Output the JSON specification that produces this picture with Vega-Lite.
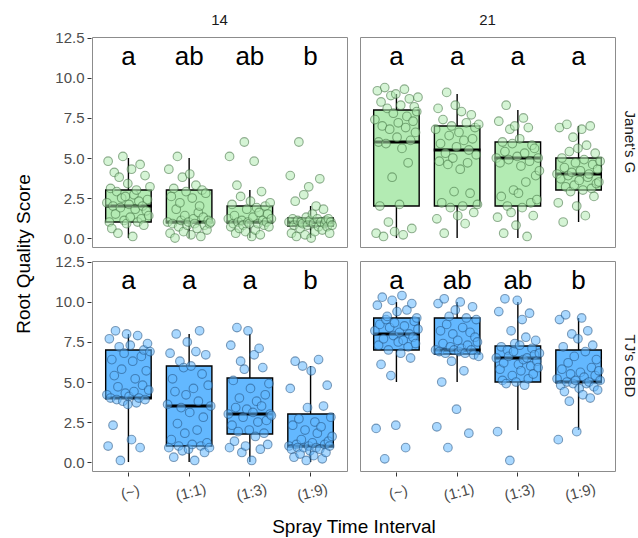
{
  "$schema": "https://vega.github.io/schema/vega-lite/v6.json",
  "padding": {"left": 14, "top": 13, "right": 5, "bottom": 5},
  "background": "white",
  "data": {"values": [
    {"day":14,"cv":"Janet's G","trt":"(~)","lower":0,"q1":1,"median":2,"q3":3,"upper":5,"letter":"a"},
    {"day":14,"cv":"Janet's G","trt":"(1:1)","lower":0,"q1":1,"median":1,"q3":3,"upper":5,"letter":"ab"},
    {"day":14,"cv":"Janet's G","trt":"(1:3)","lower":0,"q1":1,"median":1,"q3":2,"upper":3,"letter":"ab"},
    {"day":14,"cv":"Janet's G","trt":"(1:9)","lower":0,"q1":0.75,"median":1,"q3":1.25,"upper":2,"letter":"b"},
    {"day":21,"cv":"Janet's G","trt":"(~)","lower":0,"q1":2,"median":6,"q3":8,"upper":9,"letter":"a"},
    {"day":21,"cv":"Janet's G","trt":"(1:1)","lower":0,"q1":2,"median":5.5,"q3":7,"upper":9,"letter":"a"},
    {"day":21,"cv":"Janet's G","trt":"(1:3)","lower":0,"q1":2,"median":5,"q3":6,"upper":8,"letter":"a"},
    {"day":21,"cv":"Janet's G","trt":"(1:9)","lower":1,"q1":3,"median":4,"q3":5,"upper":7,"letter":"a"},
    {"day":14,"cv":"TJ's CBD","trt":"(~)","lower":0,"q1":4,"median":4,"q3":7,"upper":8,"letter":"a"},
    {"day":14,"cv":"TJ's CBD","trt":"(1:1)","lower":0,"q1":1,"median":3.5,"q3":6,"upper":8,"letter":"a"},
    {"day":14,"cv":"TJ's CBD","trt":"(1:3)","lower":0,"q1":1.75,"median":3,"q3":5.25,"upper":8,"letter":"a"},
    {"day":14,"cv":"TJ's CBD","trt":"(1:9)","lower":0,"q1":1,"median":1,"q3":3,"upper":6,"letter":"b"},
    {"day":21,"cv":"TJ's CBD","trt":"(~)","lower":5,"q1":7,"median":8,"q3":9,"upper":10,"letter":"a"},
    {"day":21,"cv":"TJ's CBD","trt":"(1:1)","lower":5,"q1":6.75,"median":7,"q3":9,"upper":10,"letter":"ab"},
    {"day":21,"cv":"TJ's CBD","trt":"(1:3)","lower":2,"q1":5,"median":6.5,"q3":7.25,"upper":10,"letter":"ab"},
    {"day":21,"cv":"TJ's CBD","trt":"(1:9)","lower":2,"q1":5,"median":5,"q3":7,"upper":9,"letter":"b"},

    {"day":14,"cv":"Janet's G","trt":"(~)","plant":1,"score":2.2},{"day":14,"cv":"Janet's G","trt":"(~)","plant":2,"score":4.8},{"day":14,"cv":"Janet's G","trt":"(~)","plant":3,"score":1.0},{"day":14,"cv":"Janet's G","trt":"(~)","plant":4,"score":3.1},{"day":14,"cv":"Janet's G","trt":"(~)","plant":5,"score":0.6},{"day":14,"cv":"Janet's G","trt":"(~)","plant":6,"score":2.0},{"day":14,"cv":"Janet's G","trt":"(~)","plant":7,"score":4.1},{"day":14,"cv":"Janet's G","trt":"(~)","plant":8,"score":1.5},{"day":14,"cv":"Janet's G","trt":"(~)","plant":9,"score":2.9},{"day":14,"cv":"Janet's G","trt":"(~)","plant":10,"score":0.3},{"day":14,"cv":"Janet's G","trt":"(~)","plant":11,"score":3.8},{"day":14,"cv":"Janet's G","trt":"(~)","plant":12,"score":1.9},{"day":14,"cv":"Janet's G","trt":"(~)","plant":13,"score":2.5},{"day":14,"cv":"Janet's G","trt":"(~)","plant":14,"score":5.1},{"day":14,"cv":"Janet's G","trt":"(~)","plant":15,"score":1.1},{"day":14,"cv":"Janet's G","trt":"(~)","plant":16,"score":2.6},{"day":14,"cv":"Janet's G","trt":"(~)","plant":17,"score":0.9},{"day":14,"cv":"Janet's G","trt":"(~)","plant":18,"score":3.4},{"day":14,"cv":"Janet's G","trt":"(~)","plant":19,"score":2.1},{"day":14,"cv":"Janet's G","trt":"(~)","plant":20,"score":1.3},{"day":14,"cv":"Janet's G","trt":"(~)","plant":21,"score":4.3},{"day":14,"cv":"Janet's G","trt":"(~)","plant":22,"score":0.1},{"day":14,"cv":"Janet's G","trt":"(~)","plant":23,"score":2.7},{"day":14,"cv":"Janet's G","trt":"(~)","plant":24,"score":1.8},{"day":14,"cv":"Janet's G","trt":"(~)","plant":25,"score":3.0},{"day":14,"cv":"Janet's G","trt":"(~)","plant":26,"score":1.0},{"day":14,"cv":"Janet's G","trt":"(~)","plant":27,"score":2.3},{"day":14,"cv":"Janet's G","trt":"(~)","plant":28,"score":4.6},{"day":14,"cv":"Janet's G","trt":"(~)","plant":29,"score":1.2},{"day":14,"cv":"Janet's G","trt":"(~)","plant":30,"score":2.0},{"day":14,"cv":"Janet's G","trt":"(~)","plant":31,"score":0.8},{"day":14,"cv":"Janet's G","trt":"(~)","plant":32,"score":3.9},{"day":14,"cv":"Janet's G","trt":"(~)","plant":33,"score":1.7},{"day":14,"cv":"Janet's G","trt":"(~)","plant":34,"score":2.4},{"day":14,"cv":"Janet's G","trt":"(~)","plant":35,"score":1.4},{"day":14,"cv":"Janet's G","trt":"(~)","plant":36,"score":3.2},

    {"day":14,"cv":"Janet's G","trt":"(1:1)","plant":1,"score":1.0},{"day":14,"cv":"Janet's G","trt":"(1:1)","plant":2,"score":4.3},{"day":14,"cv":"Janet's G","trt":"(1:1)","plant":3,"score":0.3},{"day":14,"cv":"Janet's G","trt":"(1:1)","plant":4,"score":2.6},{"day":14,"cv":"Janet's G","trt":"(1:1)","plant":5,"score":0.9},{"day":14,"cv":"Janet's G","trt":"(1:1)","plant":6,"score":3.1},{"day":14,"cv":"Janet's G","trt":"(1:1)","plant":7,"score":0.0},{"day":14,"cv":"Janet's G","trt":"(1:1)","plant":8,"score":1.8},{"day":14,"cv":"Janet's G","trt":"(1:1)","plant":9,"score":5.1},{"day":14,"cv":"Janet's G","trt":"(1:1)","plant":10,"score":0.7},{"day":14,"cv":"Janet's G","trt":"(1:1)","plant":11,"score":2.2},{"day":14,"cv":"Janet's G","trt":"(1:1)","plant":12,"score":1.1},{"day":14,"cv":"Janet's G","trt":"(1:1)","plant":13,"score":3.8},{"day":14,"cv":"Janet's G","trt":"(1:1)","plant":14,"score":0.4},{"day":14,"cv":"Janet's G","trt":"(1:1)","plant":15,"score":1.4},{"day":14,"cv":"Janet's G","trt":"(1:1)","plant":16,"score":2.9},{"day":14,"cv":"Janet's G","trt":"(1:1)","plant":17,"score":0.8},{"day":14,"cv":"Janet's G","trt":"(1:1)","plant":18,"score":1.0},{"day":14,"cv":"Janet's G","trt":"(1:1)","plant":19,"score":4.0},{"day":14,"cv":"Janet's G","trt":"(1:1)","plant":20,"score":0.2},{"day":14,"cv":"Janet's G","trt":"(1:1)","plant":21,"score":2.5},{"day":14,"cv":"Janet's G","trt":"(1:1)","plant":22,"score":1.2},{"day":14,"cv":"Janet's G","trt":"(1:1)","plant":23,"score":0.9},{"day":14,"cv":"Janet's G","trt":"(1:1)","plant":24,"score":3.3},{"day":14,"cv":"Janet's G","trt":"(1:1)","plant":25,"score":0.6},{"day":14,"cv":"Janet's G","trt":"(1:1)","plant":26,"score":1.6},{"day":14,"cv":"Janet's G","trt":"(1:1)","plant":27,"score":2.0},{"day":14,"cv":"Janet's G","trt":"(1:1)","plant":28,"score":0.1},{"day":14,"cv":"Janet's G","trt":"(1:1)","plant":29,"score":3.0},{"day":14,"cv":"Janet's G","trt":"(1:1)","plant":30,"score":1.3},{"day":14,"cv":"Janet's G","trt":"(1:1)","plant":31,"score":0.8},{"day":14,"cv":"Janet's G","trt":"(1:1)","plant":32,"score":2.8},{"day":14,"cv":"Janet's G","trt":"(1:1)","plant":33,"score":0.5},{"day":14,"cv":"Janet's G","trt":"(1:1)","plant":34,"score":1.1},{"day":14,"cv":"Janet's G","trt":"(1:1)","plant":35,"score":0.9},{"day":14,"cv":"Janet's G","trt":"(1:1)","plant":36,"score":1.0},

    {"day":14,"cv":"Janet's G","trt":"(1:3)","plant":1,"score":1.2},{"day":14,"cv":"Janet's G","trt":"(1:3)","plant":2,"score":5.1},{"day":14,"cv":"Janet's G","trt":"(1:3)","plant":3,"score":0.7},{"day":14,"cv":"Janet's G","trt":"(1:3)","plant":4,"score":2.1},{"day":14,"cv":"Janet's G","trt":"(1:3)","plant":5,"score":0.9},{"day":14,"cv":"Janet's G","trt":"(1:3)","plant":6,"score":1.4},{"day":14,"cv":"Janet's G","trt":"(1:3)","plant":7,"score":0.3},{"day":14,"cv":"Janet's G","trt":"(1:3)","plant":8,"score":3.3},{"day":14,"cv":"Janet's G","trt":"(1:3)","plant":9,"score":1.0},{"day":14,"cv":"Janet's G","trt":"(1:3)","plant":10,"score":0.6},{"day":14,"cv":"Janet's G","trt":"(1:3)","plant":11,"score":2.6},{"day":14,"cv":"Janet's G","trt":"(1:3)","plant":12,"score":1.1},{"day":14,"cv":"Janet's G","trt":"(1:3)","plant":13,"score":0.8},{"day":14,"cv":"Janet's G","trt":"(1:3)","plant":14,"score":6.0},{"day":14,"cv":"Janet's G","trt":"(1:3)","plant":15,"score":0.4},{"day":14,"cv":"Janet's G","trt":"(1:3)","plant":16,"score":1.8},{"day":14,"cv":"Janet's G","trt":"(1:3)","plant":17,"score":1.0},{"day":14,"cv":"Janet's G","trt":"(1:3)","plant":18,"score":0.9},{"day":14,"cv":"Janet's G","trt":"(1:3)","plant":19,"score":2.3},{"day":14,"cv":"Janet's G","trt":"(1:3)","plant":20,"score":0.1},{"day":14,"cv":"Janet's G","trt":"(1:3)","plant":21,"score":1.3},{"day":14,"cv":"Janet's G","trt":"(1:3)","plant":22,"score":4.8},{"day":14,"cv":"Janet's G","trt":"(1:3)","plant":23,"score":0.5},{"day":14,"cv":"Janet's G","trt":"(1:3)","plant":24,"score":1.9},{"day":14,"cv":"Janet's G","trt":"(1:3)","plant":25,"score":0.9},{"day":14,"cv":"Janet's G","trt":"(1:3)","plant":26,"score":1.6},{"day":14,"cv":"Janet's G","trt":"(1:3)","plant":27,"score":0.2},{"day":14,"cv":"Janet's G","trt":"(1:3)","plant":28,"score":2.9},{"day":14,"cv":"Janet's G","trt":"(1:3)","plant":29,"score":1.1},{"day":14,"cv":"Janet's G","trt":"(1:3)","plant":30,"score":0.8},{"day":14,"cv":"Janet's G","trt":"(1:3)","plant":31,"score":2.0},{"day":14,"cv":"Janet's G","trt":"(1:3)","plant":32,"score":1.0},{"day":14,"cv":"Janet's G","trt":"(1:3)","plant":33,"score":1.5},{"day":14,"cv":"Janet's G","trt":"(1:3)","plant":34,"score":0.7},{"day":14,"cv":"Janet's G","trt":"(1:3)","plant":35,"score":2.2},{"day":14,"cv":"Janet's G","trt":"(1:3)","plant":36,"score":1.2},

    {"day":14,"cv":"Janet's G","trt":"(1:9)","plant":1,"score":1.0},{"day":14,"cv":"Janet's G","trt":"(1:9)","plant":2,"score":3.9},{"day":14,"cv":"Janet's G","trt":"(1:9)","plant":3,"score":0.3},{"day":14,"cv":"Janet's G","trt":"(1:9)","plant":4,"score":1.2},{"day":14,"cv":"Janet's G","trt":"(1:9)","plant":5,"score":0.8},{"day":14,"cv":"Janet's G","trt":"(1:9)","plant":6,"score":2.3},{"day":14,"cv":"Janet's G","trt":"(1:9)","plant":7,"score":0.1},{"day":14,"cv":"Janet's G","trt":"(1:9)","plant":8,"score":1.1},{"day":14,"cv":"Janet's G","trt":"(1:9)","plant":9,"score":6.0},{"day":14,"cv":"Janet's G","trt":"(1:9)","plant":10,"score":0.6},{"day":14,"cv":"Janet's G","trt":"(1:9)","plant":11,"score":1.0},{"day":14,"cv":"Janet's G","trt":"(1:9)","plant":12,"score":0.9},{"day":14,"cv":"Janet's G","trt":"(1:9)","plant":13,"score":2.7},{"day":14,"cv":"Janet's G","trt":"(1:9)","plant":14,"score":0.2},{"day":14,"cv":"Janet's G","trt":"(1:9)","plant":15,"score":1.3},{"day":14,"cv":"Janet's G","trt":"(1:9)","plant":16,"score":0.8},{"day":14,"cv":"Janet's G","trt":"(1:9)","plant":17,"score":3.2},{"day":14,"cv":"Janet's G","trt":"(1:9)","plant":18,"score":1.1},{"day":14,"cv":"Janet's G","trt":"(1:9)","plant":19,"score":0.0},{"day":14,"cv":"Janet's G","trt":"(1:9)","plant":20,"score":1.5},{"day":14,"cv":"Janet's G","trt":"(1:9)","plant":21,"score":0.9},{"day":14,"cv":"Janet's G","trt":"(1:9)","plant":22,"score":0.4},{"day":14,"cv":"Janet's G","trt":"(1:9)","plant":23,"score":2.0},{"day":14,"cv":"Janet's G","trt":"(1:9)","plant":24,"score":1.2},{"day":14,"cv":"Janet's G","trt":"(1:9)","plant":25,"score":0.7},{"day":14,"cv":"Janet's G","trt":"(1:9)","plant":26,"score":3.7},{"day":14,"cv":"Janet's G","trt":"(1:9)","plant":27,"score":1.0},{"day":14,"cv":"Janet's G","trt":"(1:9)","plant":28,"score":0.5},{"day":14,"cv":"Janet's G","trt":"(1:9)","plant":29,"score":1.8},{"day":14,"cv":"Janet's G","trt":"(1:9)","plant":30,"score":0.9},{"day":14,"cv":"Janet's G","trt":"(1:9)","plant":31,"score":1.1},{"day":14,"cv":"Janet's G","trt":"(1:9)","plant":32,"score":0.7},{"day":14,"cv":"Janet's G","trt":"(1:9)","plant":33,"score":1.2},{"day":14,"cv":"Janet's G","trt":"(1:9)","plant":34,"score":0.3},{"day":14,"cv":"Janet's G","trt":"(1:9)","plant":35,"score":1.0},{"day":14,"cv":"Janet's G","trt":"(1:9)","plant":36,"score":0.8},

    {"day":21,"cv":"Janet's G","trt":"(~)","plant":1,"score":7.4},{"day":21,"cv":"Janet's G","trt":"(~)","plant":2,"score":0.3},{"day":21,"cv":"Janet's G","trt":"(~)","plant":3,"score":9.2},{"day":21,"cv":"Janet's G","trt":"(~)","plant":4,"score":6.0},{"day":21,"cv":"Janet's G","trt":"(~)","plant":5,"score":2.0},{"day":21,"cv":"Janet's G","trt":"(~)","plant":6,"score":8.5},{"day":21,"cv":"Janet's G","trt":"(~)","plant":7,"score":7.0},{"day":21,"cv":"Janet's G","trt":"(~)","plant":8,"score":0.1},{"day":21,"cv":"Janet's G","trt":"(~)","plant":9,"score":9.4},{"day":21,"cv":"Janet's G","trt":"(~)","plant":10,"score":5.9},{"day":21,"cv":"Janet's G","trt":"(~)","plant":11,"score":8.1},{"day":21,"cv":"Janet's G","trt":"(~)","plant":12,"score":1.0},{"day":21,"cv":"Janet's G","trt":"(~)","plant":13,"score":6.8},{"day":21,"cv":"Janet's G","trt":"(~)","plant":14,"score":8.9},{"day":21,"cv":"Janet's G","trt":"(~)","plant":15,"score":3.8},{"day":21,"cv":"Janet's G","trt":"(~)","plant":16,"score":7.8},{"day":21,"cv":"Janet's G","trt":"(~)","plant":17,"score":0.4},{"day":21,"cv":"Janet's G","trt":"(~)","plant":18,"score":9.0},{"day":21,"cv":"Janet's G","trt":"(~)","plant":19,"score":6.3},{"day":21,"cv":"Janet's G","trt":"(~)","plant":20,"score":7.2},{"day":21,"cv":"Janet's G","trt":"(~)","plant":21,"score":2.1},{"day":21,"cv":"Janet's G","trt":"(~)","plant":22,"score":8.3},{"day":21,"cv":"Janet's G","trt":"(~)","plant":23,"score":5.6},{"day":21,"cv":"Janet's G","trt":"(~)","plant":24,"score":0.2},{"day":21,"cv":"Janet's G","trt":"(~)","plant":25,"score":9.3},{"day":21,"cv":"Janet's G","trt":"(~)","plant":26,"score":6.9},{"day":21,"cv":"Janet's G","trt":"(~)","plant":27,"score":7.6},{"day":21,"cv":"Janet's G","trt":"(~)","plant":28,"score":4.7},{"day":21,"cv":"Janet's G","trt":"(~)","plant":29,"score":8.7},{"day":21,"cv":"Janet's G","trt":"(~)","plant":30,"score":6.1},{"day":21,"cv":"Janet's G","trt":"(~)","plant":31,"score":0.6},{"day":21,"cv":"Janet's G","trt":"(~)","plant":32,"score":7.3},{"day":21,"cv":"Janet's G","trt":"(~)","plant":33,"score":8.2},{"day":21,"cv":"Janet's G","trt":"(~)","plant":34,"score":6.6},{"day":21,"cv":"Janet's G","trt":"(~)","plant":35,"score":7.9},{"day":21,"cv":"Janet's G","trt":"(~)","plant":36,"score":8.8},

    {"day":21,"cv":"Janet's G","trt":"(1:1)","plant":1,"score":6.8},{"day":21,"cv":"Janet's G","trt":"(1:1)","plant":2,"score":1.2},{"day":21,"cv":"Janet's G","trt":"(1:1)","plant":3,"score":8.1},{"day":21,"cv":"Janet's G","trt":"(1:1)","plant":4,"score":4.8},{"day":21,"cv":"Janet's G","trt":"(1:1)","plant":5,"score":5.9},{"day":21,"cv":"Janet's G","trt":"(1:1)","plant":6,"score":2.2},{"day":21,"cv":"Janet's G","trt":"(1:1)","plant":7,"score":7.4},{"day":21,"cv":"Janet's G","trt":"(1:1)","plant":8,"score":0.3},{"day":21,"cv":"Janet's G","trt":"(1:1)","plant":9,"score":5.3},{"day":21,"cv":"Janet's G","trt":"(1:1)","plant":10,"score":9.1},{"day":21,"cv":"Janet's G","trt":"(1:1)","plant":11,"score":4.6},{"day":21,"cv":"Janet's G","trt":"(1:1)","plant":12,"score":6.4},{"day":21,"cv":"Janet's G","trt":"(1:1)","plant":13,"score":1.9},{"day":21,"cv":"Janet's G","trt":"(1:1)","plant":14,"score":7.0},{"day":21,"cv":"Janet's G","trt":"(1:1)","plant":15,"score":5.0},{"day":21,"cv":"Janet's G","trt":"(1:1)","plant":16,"score":2.9},{"day":21,"cv":"Janet's G","trt":"(1:1)","plant":17,"score":8.3},{"day":21,"cv":"Janet's G","trt":"(1:1)","plant":18,"score":5.7},{"day":21,"cv":"Janet's G","trt":"(1:1)","plant":19,"score":1.4},{"day":21,"cv":"Janet's G","trt":"(1:1)","plant":20,"score":6.6},{"day":21,"cv":"Janet's G","trt":"(1:1)","plant":21,"score":4.3},{"day":21,"cv":"Janet's G","trt":"(1:1)","plant":22,"score":7.9},{"day":21,"cv":"Janet's G","trt":"(1:1)","plant":23,"score":2.0},{"day":21,"cv":"Janet's G","trt":"(1:1)","plant":24,"score":6.1},{"day":21,"cv":"Janet's G","trt":"(1:1)","plant":25,"score":0.9},{"day":21,"cv":"Janet's G","trt":"(1:1)","plant":26,"score":7.2},{"day":21,"cv":"Janet's G","trt":"(1:1)","plant":27,"score":4.7},{"day":21,"cv":"Janet's G","trt":"(1:1)","plant":28,"score":5.5},{"day":21,"cv":"Janet's G","trt":"(1:1)","plant":29,"score":2.8},{"day":21,"cv":"Janet's G","trt":"(1:1)","plant":30,"score":7.7},{"day":21,"cv":"Janet's G","trt":"(1:1)","plant":31,"score":6.2},{"day":21,"cv":"Janet's G","trt":"(1:1)","plant":32,"score":1.6},{"day":21,"cv":"Janet's G","trt":"(1:1)","plant":33,"score":6.9},{"day":21,"cv":"Janet's G","trt":"(1:1)","plant":34,"score":5.2},{"day":21,"cv":"Janet's G","trt":"(1:1)","plant":35,"score":2.1},{"day":21,"cv":"Janet's G","trt":"(1:1)","plant":36,"score":7.1},

    {"day":21,"cv":"Janet's G","trt":"(1:3)","plant":1,"score":5.0},{"day":21,"cv":"Janet's G","trt":"(1:3)","plant":2,"score":1.3},{"day":21,"cv":"Janet's G","trt":"(1:3)","plant":3,"score":7.3},{"day":21,"cv":"Janet's G","trt":"(1:3)","plant":4,"score":4.7},{"day":21,"cv":"Janet's G","trt":"(1:3)","plant":5,"score":2.6},{"day":21,"cv":"Janet's G","trt":"(1:3)","plant":6,"score":6.0},{"day":21,"cv":"Janet's G","trt":"(1:3)","plant":7,"score":0.3},{"day":21,"cv":"Janet's G","trt":"(1:3)","plant":8,"score":5.4},{"day":21,"cv":"Janet's G","trt":"(1:3)","plant":9,"score":8.3},{"day":21,"cv":"Janet's G","trt":"(1:3)","plant":10,"score":2.0},{"day":21,"cv":"Janet's G","trt":"(1:3)","plant":11,"score":4.9},{"day":21,"cv":"Janet's G","trt":"(1:3)","plant":12,"score":6.8},{"day":21,"cv":"Janet's G","trt":"(1:3)","plant":13,"score":1.6},{"day":21,"cv":"Janet's G","trt":"(1:3)","plant":14,"score":5.9},{"day":21,"cv":"Janet's G","trt":"(1:3)","plant":15,"score":3.0},{"day":21,"cv":"Janet's G","trt":"(1:3)","plant":16,"score":7.0},{"day":21,"cv":"Janet's G","trt":"(1:3)","plant":17,"score":0.8},{"day":21,"cv":"Janet's G","trt":"(1:3)","plant":18,"score":5.1},{"day":21,"cv":"Janet's G","trt":"(1:3)","plant":19,"score":2.8},{"day":21,"cv":"Janet's G","trt":"(1:3)","plant":20,"score":6.2},{"day":21,"cv":"Janet's G","trt":"(1:3)","plant":21,"score":4.5},{"day":21,"cv":"Janet's G","trt":"(1:3)","plant":22,"score":1.9},{"day":21,"cv":"Janet's G","trt":"(1:3)","plant":23,"score":7.5},{"day":21,"cv":"Janet's G","trt":"(1:3)","plant":24,"score":5.3},{"day":21,"cv":"Janet's G","trt":"(1:3)","plant":25,"score":3.5},{"day":21,"cv":"Janet's G","trt":"(1:3)","plant":26,"score":0.1},{"day":21,"cv":"Janet's G","trt":"(1:3)","plant":27,"score":6.9},{"day":21,"cv":"Janet's G","trt":"(1:3)","plant":28,"score":4.8},{"day":21,"cv":"Janet's G","trt":"(1:3)","plant":29,"score":2.2},{"day":21,"cv":"Janet's G","trt":"(1:3)","plant":30,"score":5.8},{"day":21,"cv":"Janet's G","trt":"(1:3)","plant":31,"score":1.4},{"day":21,"cv":"Janet's G","trt":"(1:3)","plant":32,"score":5.6},{"day":21,"cv":"Janet's G","trt":"(1:3)","plant":33,"score":3.9},{"day":21,"cv":"Janet's G","trt":"(1:3)","plant":34,"score":2.4},{"day":21,"cv":"Janet's G","trt":"(1:3)","plant":35,"score":5.0},{"day":21,"cv":"Janet's G","trt":"(1:3)","plant":36,"score":4.2},

    {"day":21,"cv":"Janet's G","trt":"(1:9)","plant":1,"score":4.0},{"day":21,"cv":"Janet's G","trt":"(1:9)","plant":2,"score":2.2},{"day":21,"cv":"Janet's G","trt":"(1:9)","plant":3,"score":6.9},{"day":21,"cv":"Janet's G","trt":"(1:9)","plant":4,"score":3.7},{"day":21,"cv":"Janet's G","trt":"(1:9)","plant":5,"score":5.0},{"day":21,"cv":"Janet's G","trt":"(1:9)","plant":6,"score":1.0},{"day":21,"cv":"Janet's G","trt":"(1:9)","plant":7,"score":4.4},{"day":21,"cv":"Janet's G","trt":"(1:9)","plant":8,"score":3.2},{"day":21,"cv":"Janet's G","trt":"(1:9)","plant":9,"score":7.1},{"day":21,"cv":"Janet's G","trt":"(1:9)","plant":10,"score":3.9},{"day":21,"cv":"Janet's G","trt":"(1:9)","plant":11,"score":5.4},{"day":21,"cv":"Janet's G","trt":"(1:9)","plant":12,"score":2.9},{"day":21,"cv":"Janet's G","trt":"(1:9)","plant":13,"score":4.1},{"day":21,"cv":"Janet's G","trt":"(1:9)","plant":14,"score":6.3},{"day":21,"cv":"Janet's G","trt":"(1:9)","plant":15,"score":3.3},{"day":21,"cv":"Janet's G","trt":"(1:9)","plant":16,"score":4.7},{"day":21,"cv":"Janet's G","trt":"(1:9)","plant":17,"score":2.0},{"day":21,"cv":"Janet's G","trt":"(1:9)","plant":18,"score":5.6},{"day":21,"cv":"Janet's G","trt":"(1:9)","plant":19,"score":3.6},{"day":21,"cv":"Janet's G","trt":"(1:9)","plant":20,"score":4.2},{"day":21,"cv":"Janet's G","trt":"(1:9)","plant":21,"score":6.8},{"day":21,"cv":"Janet's G","trt":"(1:9)","plant":22,"score":3.0},{"day":21,"cv":"Janet's G","trt":"(1:9)","plant":23,"score":4.9},{"day":21,"cv":"Janet's G","trt":"(1:9)","plant":24,"score":1.4},{"day":21,"cv":"Janet's G","trt":"(1:9)","plant":25,"score":5.8},{"day":21,"cv":"Janet's G","trt":"(1:9)","plant":26,"score":3.8},{"day":21,"cv":"Janet's G","trt":"(1:9)","plant":27,"score":4.0},{"day":21,"cv":"Janet's G","trt":"(1:9)","plant":28,"score":7.0},{"day":21,"cv":"Janet's G","trt":"(1:9)","plant":29,"score":3.1},{"day":21,"cv":"Janet's G","trt":"(1:9)","plant":30,"score":4.6},{"day":21,"cv":"Janet's G","trt":"(1:9)","plant":31,"score":2.6},{"day":21,"cv":"Janet's G","trt":"(1:9)","plant":32,"score":5.3},{"day":21,"cv":"Janet's G","trt":"(1:9)","plant":33,"score":3.4},{"day":21,"cv":"Janet's G","trt":"(1:9)","plant":34,"score":4.3},{"day":21,"cv":"Janet's G","trt":"(1:9)","plant":35,"score":3.5},{"day":21,"cv":"Janet's G","trt":"(1:9)","plant":36,"score":4.8},

    {"day":14,"cv":"TJ's CBD","trt":"(~)","plant":1,"score":4.2},{"day":14,"cv":"TJ's CBD","trt":"(~)","plant":2,"score":1.0},{"day":14,"cv":"TJ's CBD","trt":"(~)","plant":3,"score":7.7},{"day":14,"cv":"TJ's CBD","trt":"(~)","plant":4,"score":4.0},{"day":14,"cv":"TJ's CBD","trt":"(~)","plant":5,"score":6.4},{"day":14,"cv":"TJ's CBD","trt":"(~)","plant":6,"score":2.3},{"day":14,"cv":"TJ's CBD","trt":"(~)","plant":7,"score":5.4},{"day":14,"cv":"TJ's CBD","trt":"(~)","plant":8,"score":8.2},{"day":14,"cv":"TJ's CBD","trt":"(~)","plant":9,"score":3.9},{"day":14,"cv":"TJ's CBD","trt":"(~)","plant":10,"score":4.7},{"day":14,"cv":"TJ's CBD","trt":"(~)","plant":11,"score":7.2},{"day":14,"cv":"TJ's CBD","trt":"(~)","plant":12,"score":0.1},{"day":14,"cv":"TJ's CBD","trt":"(~)","plant":13,"score":5.8},{"day":14,"cv":"TJ's CBD","trt":"(~)","plant":14,"score":3.8},{"day":14,"cv":"TJ's CBD","trt":"(~)","plant":15,"score":6.8},{"day":14,"cv":"TJ's CBD","trt":"(~)","plant":16,"score":4.3},{"day":14,"cv":"TJ's CBD","trt":"(~)","plant":17,"score":8.0},{"day":14,"cv":"TJ's CBD","trt":"(~)","plant":18,"score":3.6},{"day":14,"cv":"TJ's CBD","trt":"(~)","plant":19,"score":4.1},{"day":14,"cv":"TJ's CBD","trt":"(~)","plant":20,"score":7.3},{"day":14,"cv":"TJ's CBD","trt":"(~)","plant":21,"score":1.4},{"day":14,"cv":"TJ's CBD","trt":"(~)","plant":22,"score":6.3},{"day":14,"cv":"TJ's CBD","trt":"(~)","plant":23,"score":4.4},{"day":14,"cv":"TJ's CBD","trt":"(~)","plant":24,"score":5.2},{"day":14,"cv":"TJ's CBD","trt":"(~)","plant":25,"score":3.7},{"day":14,"cv":"TJ's CBD","trt":"(~)","plant":26,"score":7.9},{"day":14,"cv":"TJ's CBD","trt":"(~)","plant":27,"score":4.0},{"day":14,"cv":"TJ's CBD","trt":"(~)","plant":28,"score":0.9},{"day":14,"cv":"TJ's CBD","trt":"(~)","plant":29,"score":6.6},{"day":14,"cv":"TJ's CBD","trt":"(~)","plant":30,"score":4.8},{"day":14,"cv":"TJ's CBD","trt":"(~)","plant":31,"score":7.0},{"day":14,"cv":"TJ's CBD","trt":"(~)","plant":32,"score":3.9},{"day":14,"cv":"TJ's CBD","trt":"(~)","plant":33,"score":5.7},{"day":14,"cv":"TJ's CBD","trt":"(~)","plant":34,"score":7.4},{"day":14,"cv":"TJ's CBD","trt":"(~)","plant":35,"score":4.5},{"day":14,"cv":"TJ's CBD","trt":"(~)","plant":36,"score":6.9},

    {"day":14,"cv":"TJ's CBD","trt":"(1:1)","plant":1,"score":3.6},{"day":14,"cv":"TJ's CBD","trt":"(1:1)","plant":2,"score":0.9},{"day":14,"cv":"TJ's CBD","trt":"(1:1)","plant":3,"score":6.8},{"day":14,"cv":"TJ's CBD","trt":"(1:1)","plant":4,"score":1.4},{"day":14,"cv":"TJ's CBD","trt":"(1:1)","plant":5,"score":5.2},{"day":14,"cv":"TJ's CBD","trt":"(1:1)","plant":6,"score":0.3},{"day":14,"cv":"TJ's CBD","trt":"(1:1)","plant":7,"score":4.4},{"day":14,"cv":"TJ's CBD","trt":"(1:1)","plant":8,"score":8.0},{"day":14,"cv":"TJ's CBD","trt":"(1:1)","plant":9,"score":2.4},{"day":14,"cv":"TJ's CBD","trt":"(1:1)","plant":10,"score":1.0},{"day":14,"cv":"TJ's CBD","trt":"(1:1)","plant":11,"score":6.3},{"day":14,"cv":"TJ's CBD","trt":"(1:1)","plant":12,"score":3.4},{"day":14,"cv":"TJ's CBD","trt":"(1:1)","plant":13,"score":0.7},{"day":14,"cv":"TJ's CBD","trt":"(1:1)","plant":14,"score":5.9},{"day":14,"cv":"TJ's CBD","trt":"(1:1)","plant":15,"score":1.8},{"day":14,"cv":"TJ's CBD","trt":"(1:1)","plant":16,"score":4.2},{"day":14,"cv":"TJ's CBD","trt":"(1:1)","plant":17,"score":7.5},{"day":14,"cv":"TJ's CBD","trt":"(1:1)","plant":18,"score":0.8},{"day":14,"cv":"TJ's CBD","trt":"(1:1)","plant":19,"score":3.1},{"day":14,"cv":"TJ's CBD","trt":"(1:1)","plant":20,"score":6.0},{"day":14,"cv":"TJ's CBD","trt":"(1:1)","plant":21,"score":1.1},{"day":14,"cv":"TJ's CBD","trt":"(1:1)","plant":22,"score":4.6},{"day":14,"cv":"TJ's CBD","trt":"(1:1)","plant":23,"score":0.1},{"day":14,"cv":"TJ's CBD","trt":"(1:1)","plant":24,"score":6.9},{"day":14,"cv":"TJ's CBD","trt":"(1:1)","plant":25,"score":2.0},{"day":14,"cv":"TJ's CBD","trt":"(1:1)","plant":26,"score":3.8},{"day":14,"cv":"TJ's CBD","trt":"(1:1)","plant":27,"score":8.2},{"day":14,"cv":"TJ's CBD","trt":"(1:1)","plant":28,"score":1.0},{"day":14,"cv":"TJ's CBD","trt":"(1:1)","plant":29,"score":5.5},{"day":14,"cv":"TJ's CBD","trt":"(1:1)","plant":30,"score":2.8},{"day":14,"cv":"TJ's CBD","trt":"(1:1)","plant":31,"score":0.6},{"day":14,"cv":"TJ's CBD","trt":"(1:1)","plant":32,"score":6.7},{"day":14,"cv":"TJ's CBD","trt":"(1:1)","plant":33,"score":1.2},{"day":14,"cv":"TJ's CBD","trt":"(1:1)","plant":34,"score":4.8},{"day":14,"cv":"TJ's CBD","trt":"(1:1)","plant":35,"score":0.9},{"day":14,"cv":"TJ's CBD","trt":"(1:1)","plant":36,"score":3.5},

    {"day":14,"cv":"TJ's CBD","trt":"(1:3)","plant":1,"score":3.0},{"day":14,"cv":"TJ's CBD","trt":"(1:3)","plant":2,"score":0.9},{"day":14,"cv":"TJ's CBD","trt":"(1:3)","plant":3,"score":7.3},{"day":14,"cv":"TJ's CBD","trt":"(1:3)","plant":4,"score":2.3},{"day":14,"cv":"TJ's CBD","trt":"(1:3)","plant":5,"score":5.1},{"day":14,"cv":"TJ's CBD","trt":"(1:3)","plant":6,"score":1.3},{"day":14,"cv":"TJ's CBD","trt":"(1:3)","plant":7,"score":3.4},{"day":14,"cv":"TJ's CBD","trt":"(1:3)","plant":8,"score":8.4},{"day":14,"cv":"TJ's CBD","trt":"(1:3)","plant":9,"score":1.9},{"day":14,"cv":"TJ's CBD","trt":"(1:3)","plant":10,"score":4.0},{"day":14,"cv":"TJ's CBD","trt":"(1:3)","plant":11,"score":6.3},{"day":14,"cv":"TJ's CBD","trt":"(1:3)","plant":12,"score":0.6},{"day":14,"cv":"TJ's CBD","trt":"(1:3)","plant":13,"score":2.8},{"day":14,"cv":"TJ's CBD","trt":"(1:3)","plant":14,"score":5.8},{"day":14,"cv":"TJ's CBD","trt":"(1:3)","plant":15,"score":1.0},{"day":14,"cv":"TJ's CBD","trt":"(1:3)","plant":16,"score":3.3},{"day":14,"cv":"TJ's CBD","trt":"(1:3)","plant":17,"score":8.2},{"day":14,"cv":"TJ's CBD","trt":"(1:3)","plant":18,"score":2.0},{"day":14,"cv":"TJ's CBD","trt":"(1:3)","plant":19,"score":4.6},{"day":14,"cv":"TJ's CBD","trt":"(1:3)","plant":20,"score":0.1},{"day":14,"cv":"TJ's CBD","trt":"(1:3)","plant":21,"score":3.1},{"day":14,"cv":"TJ's CBD","trt":"(1:3)","plant":22,"score":6.7},{"day":14,"cv":"TJ's CBD","trt":"(1:3)","plant":23,"score":1.6},{"day":14,"cv":"TJ's CBD","trt":"(1:3)","plant":24,"score":3.8},{"day":14,"cv":"TJ's CBD","trt":"(1:3)","plant":25,"score":2.5},{"day":14,"cv":"TJ's CBD","trt":"(1:3)","plant":26,"score":7.1},{"day":14,"cv":"TJ's CBD","trt":"(1:3)","plant":27,"score":0.8},{"day":14,"cv":"TJ's CBD","trt":"(1:3)","plant":28,"score":3.5},{"day":14,"cv":"TJ's CBD","trt":"(1:3)","plant":29,"score":5.9},{"day":14,"cv":"TJ's CBD","trt":"(1:3)","plant":30,"score":1.8},{"day":14,"cv":"TJ's CBD","trt":"(1:3)","plant":31,"score":4.2},{"day":14,"cv":"TJ's CBD","trt":"(1:3)","plant":32,"score":2.6},{"day":14,"cv":"TJ's CBD","trt":"(1:3)","plant":33,"score":1.1},{"day":14,"cv":"TJ's CBD","trt":"(1:3)","plant":34,"score":4.9},{"day":14,"cv":"TJ's CBD","trt":"(1:3)","plant":35,"score":3.0},{"day":14,"cv":"TJ's CBD","trt":"(1:3)","plant":36,"score":2.9},

    {"day":14,"cv":"TJ's CBD","trt":"(1:9)","plant":1,"score":1.0},{"day":14,"cv":"TJ's CBD","trt":"(1:9)","plant":2,"score":4.6},{"day":14,"cv":"TJ's CBD","trt":"(1:9)","plant":3,"score":0.8},{"day":14,"cv":"TJ's CBD","trt":"(1:9)","plant":4,"score":2.3},{"day":14,"cv":"TJ's CBD","trt":"(1:9)","plant":5,"score":0.3},{"day":14,"cv":"TJ's CBD","trt":"(1:9)","plant":6,"score":6.3},{"day":14,"cv":"TJ's CBD","trt":"(1:9)","plant":7,"score":1.1},{"day":14,"cv":"TJ's CBD","trt":"(1:9)","plant":8,"score":0.9},{"day":14,"cv":"TJ's CBD","trt":"(1:9)","plant":9,"score":2.7},{"day":14,"cv":"TJ's CBD","trt":"(1:9)","plant":10,"score":0.5},{"day":14,"cv":"TJ's CBD","trt":"(1:9)","plant":11,"score":1.4},{"day":14,"cv":"TJ's CBD","trt":"(1:9)","plant":12,"score":6.0},{"day":14,"cv":"TJ's CBD","trt":"(1:9)","plant":13,"score":0.9},{"day":14,"cv":"TJ's CBD","trt":"(1:9)","plant":14,"score":2.0},{"day":14,"cv":"TJ's CBD","trt":"(1:9)","plant":15,"score":0.1},{"day":14,"cv":"TJ's CBD","trt":"(1:9)","plant":16,"score":3.4},{"day":14,"cv":"TJ's CBD","trt":"(1:9)","plant":17,"score":1.0},{"day":14,"cv":"TJ's CBD","trt":"(1:9)","plant":18,"score":0.7},{"day":14,"cv":"TJ's CBD","trt":"(1:9)","plant":19,"score":5.7},{"day":14,"cv":"TJ's CBD","trt":"(1:9)","plant":20,"score":1.2},{"day":14,"cv":"TJ's CBD","trt":"(1:9)","plant":21,"score":0.4},{"day":14,"cv":"TJ's CBD","trt":"(1:9)","plant":22,"score":2.5},{"day":14,"cv":"TJ's CBD","trt":"(1:9)","plant":23,"score":0.9},{"day":14,"cv":"TJ's CBD","trt":"(1:9)","plant":24,"score":1.8},{"day":14,"cv":"TJ's CBD","trt":"(1:9)","plant":25,"score":6.4},{"day":14,"cv":"TJ's CBD","trt":"(1:9)","plant":26,"score":0.8},{"day":14,"cv":"TJ's CBD","trt":"(1:9)","plant":27,"score":2.2},{"day":14,"cv":"TJ's CBD","trt":"(1:9)","plant":28,"score":0.2},{"day":14,"cv":"TJ's CBD","trt":"(1:9)","plant":29,"score":3.5},{"day":14,"cv":"TJ's CBD","trt":"(1:9)","plant":30,"score":1.1},{"day":14,"cv":"TJ's CBD","trt":"(1:9)","plant":31,"score":0.6},{"day":14,"cv":"TJ's CBD","trt":"(1:9)","plant":32,"score":4.8},{"day":14,"cv":"TJ's CBD","trt":"(1:9)","plant":33,"score":1.3},{"day":14,"cv":"TJ's CBD","trt":"(1:9)","plant":34,"score":1.0},{"day":14,"cv":"TJ's CBD","trt":"(1:9)","plant":35,"score":2.8},{"day":14,"cv":"TJ's CBD","trt":"(1:9)","plant":36,"score":1.6},

    {"day":21,"cv":"TJ's CBD","trt":"(~)","plant":1,"score":8.2},{"day":21,"cv":"TJ's CBD","trt":"(~)","plant":2,"score":2.1},{"day":21,"cv":"TJ's CBD","trt":"(~)","plant":3,"score":9.8},{"day":21,"cv":"TJ's CBD","trt":"(~)","plant":4,"score":7.3},{"day":21,"cv":"TJ's CBD","trt":"(~)","plant":5,"score":8.6},{"day":21,"cv":"TJ's CBD","trt":"(~)","plant":6,"score":6.1},{"day":21,"cv":"TJ's CBD","trt":"(~)","plant":7,"score":10.3},{"day":21,"cv":"TJ's CBD","trt":"(~)","plant":8,"score":7.7},{"day":21,"cv":"TJ's CBD","trt":"(~)","plant":9,"score":0.2},{"day":21,"cv":"TJ's CBD","trt":"(~)","plant":10,"score":8.9},{"day":21,"cv":"TJ's CBD","trt":"(~)","plant":11,"score":9.1},{"day":21,"cv":"TJ's CBD","trt":"(~)","plant":12,"score":7.0},{"day":21,"cv":"TJ's CBD","trt":"(~)","plant":13,"score":8.4},{"day":21,"cv":"TJ's CBD","trt":"(~)","plant":14,"score":5.4},{"day":21,"cv":"TJ's CBD","trt":"(~)","plant":15,"score":10.1},{"day":21,"cv":"TJ's CBD","trt":"(~)","plant":16,"score":7.9},{"day":21,"cv":"TJ's CBD","trt":"(~)","plant":17,"score":8.7},{"day":21,"cv":"TJ's CBD","trt":"(~)","plant":18,"score":2.3},{"day":21,"cv":"TJ's CBD","trt":"(~)","plant":19,"score":9.4},{"day":21,"cv":"TJ's CBD","trt":"(~)","plant":20,"score":7.5},{"day":21,"cv":"TJ's CBD","trt":"(~)","plant":21,"score":8.1},{"day":21,"cv":"TJ's CBD","trt":"(~)","plant":22,"score":6.8},{"day":21,"cv":"TJ's CBD","trt":"(~)","plant":23,"score":10.4},{"day":21,"cv":"TJ's CBD","trt":"(~)","plant":24,"score":7.6},{"day":21,"cv":"TJ's CBD","trt":"(~)","plant":25,"score":8.5},{"day":21,"cv":"TJ's CBD","trt":"(~)","plant":26,"score":0.9},{"day":21,"cv":"TJ's CBD","trt":"(~)","plant":27,"score":9.5},{"day":21,"cv":"TJ's CBD","trt":"(~)","plant":28,"score":7.2},{"day":21,"cv":"TJ's CBD","trt":"(~)","plant":29,"score":8.0},{"day":21,"cv":"TJ's CBD","trt":"(~)","plant":30,"score":6.5},{"day":21,"cv":"TJ's CBD","trt":"(~)","plant":31,"score":9.9},{"day":21,"cv":"TJ's CBD","trt":"(~)","plant":32,"score":7.8},{"day":21,"cv":"TJ's CBD","trt":"(~)","plant":33,"score":8.8},{"day":21,"cv":"TJ's CBD","trt":"(~)","plant":34,"score":7.4},{"day":21,"cv":"TJ's CBD","trt":"(~)","plant":35,"score":9.0},{"day":21,"cv":"TJ's CBD","trt":"(~)","plant":36,"score":8.3},

    {"day":21,"cv":"TJ's CBD","trt":"(1:1)","plant":1,"score":7.0},{"day":21,"cv":"TJ's CBD","trt":"(1:1)","plant":2,"score":2.2},{"day":21,"cv":"TJ's CBD","trt":"(1:1)","plant":3,"score":9.9},{"day":21,"cv":"TJ's CBD","trt":"(1:1)","plant":4,"score":6.9},{"day":21,"cv":"TJ's CBD","trt":"(1:1)","plant":5,"score":8.2},{"day":21,"cv":"TJ's CBD","trt":"(1:1)","plant":6,"score":5.0},{"day":21,"cv":"TJ's CBD","trt":"(1:1)","plant":7,"score":7.4},{"day":21,"cv":"TJ's CBD","trt":"(1:1)","plant":8,"score":10.2},{"day":21,"cv":"TJ's CBD","trt":"(1:1)","plant":9,"score":6.8},{"day":21,"cv":"TJ's CBD","trt":"(1:1)","plant":10,"score":8.6},{"day":21,"cv":"TJ's CBD","trt":"(1:1)","plant":11,"score":0.9},{"day":21,"cv":"TJ's CBD","trt":"(1:1)","plant":12,"score":9.1},{"day":21,"cv":"TJ's CBD","trt":"(1:1)","plant":13,"score":7.2},{"day":21,"cv":"TJ's CBD","trt":"(1:1)","plant":14,"score":6.3},{"day":21,"cv":"TJ's CBD","trt":"(1:1)","plant":15,"score":8.0},{"day":21,"cv":"TJ's CBD","trt":"(1:1)","plant":16,"score":7.0},{"day":21,"cv":"TJ's CBD","trt":"(1:1)","plant":17,"score":9.5},{"day":21,"cv":"TJ's CBD","trt":"(1:1)","plant":18,"score":3.3},{"day":21,"cv":"TJ's CBD","trt":"(1:1)","plant":19,"score":7.6},{"day":21,"cv":"TJ's CBD","trt":"(1:1)","plant":20,"score":6.9},{"day":21,"cv":"TJ's CBD","trt":"(1:1)","plant":21,"score":10.0},{"day":21,"cv":"TJ's CBD","trt":"(1:1)","plant":22,"score":7.1},{"day":21,"cv":"TJ's CBD","trt":"(1:1)","plant":23,"score":8.4},{"day":21,"cv":"TJ's CBD","trt":"(1:1)","plant":24,"score":5.7},{"day":21,"cv":"TJ's CBD","trt":"(1:1)","plant":25,"score":6.8},{"day":21,"cv":"TJ's CBD","trt":"(1:1)","plant":26,"score":9.0},{"day":21,"cv":"TJ's CBD","trt":"(1:1)","plant":27,"score":7.3},{"day":21,"cv":"TJ's CBD","trt":"(1:1)","plant":28,"score":1.8},{"day":21,"cv":"TJ's CBD","trt":"(1:1)","plant":29,"score":8.1},{"day":21,"cv":"TJ's CBD","trt":"(1:1)","plant":30,"score":7.0},{"day":21,"cv":"TJ's CBD","trt":"(1:1)","plant":31,"score":9.7},{"day":21,"cv":"TJ's CBD","trt":"(1:1)","plant":32,"score":6.7},{"day":21,"cv":"TJ's CBD","trt":"(1:1)","plant":33,"score":7.8},{"day":21,"cv":"TJ's CBD","trt":"(1:1)","plant":34,"score":8.9},{"day":21,"cv":"TJ's CBD","trt":"(1:1)","plant":35,"score":7.5},{"day":21,"cv":"TJ's CBD","trt":"(1:1)","plant":36,"score":6.6},

    {"day":21,"cv":"TJ's CBD","trt":"(1:3)","plant":1,"score":6.5},{"day":21,"cv":"TJ's CBD","trt":"(1:3)","plant":2,"score":1.9},{"day":21,"cv":"TJ's CBD","trt":"(1:3)","plant":3,"score":9.4},{"day":21,"cv":"TJ's CBD","trt":"(1:3)","plant":4,"score":5.8},{"day":21,"cv":"TJ's CBD","trt":"(1:3)","plant":5,"score":7.2},{"day":21,"cv":"TJ's CBD","trt":"(1:3)","plant":6,"score":5.1},{"day":21,"cv":"TJ's CBD","trt":"(1:3)","plant":7,"score":6.2},{"day":21,"cv":"TJ's CBD","trt":"(1:3)","plant":8,"score":10.2},{"day":21,"cv":"TJ's CBD","trt":"(1:3)","plant":9,"score":4.9},{"day":21,"cv":"TJ's CBD","trt":"(1:3)","plant":10,"score":7.0},{"day":21,"cv":"TJ's CBD","trt":"(1:3)","plant":11,"score":6.6},{"day":21,"cv":"TJ's CBD","trt":"(1:3)","plant":12,"score":0.1},{"day":21,"cv":"TJ's CBD","trt":"(1:3)","plant":13,"score":8.2},{"day":21,"cv":"TJ's CBD","trt":"(1:3)","plant":14,"score":5.4},{"day":21,"cv":"TJ's CBD","trt":"(1:3)","plant":15,"score":6.9},{"day":21,"cv":"TJ's CBD","trt":"(1:3)","plant":16,"score":7.4},{"day":21,"cv":"TJ's CBD","trt":"(1:3)","plant":17,"score":5.0},{"day":21,"cv":"TJ's CBD","trt":"(1:3)","plant":18,"score":10.1},{"day":21,"cv":"TJ's CBD","trt":"(1:3)","plant":19,"score":6.1},{"day":21,"cv":"TJ's CBD","trt":"(1:3)","plant":20,"score":7.3},{"day":21,"cv":"TJ's CBD","trt":"(1:3)","plant":21,"score":5.7},{"day":21,"cv":"TJ's CBD","trt":"(1:3)","plant":22,"score":8.9},{"day":21,"cv":"TJ's CBD","trt":"(1:3)","plant":23,"score":6.4},{"day":21,"cv":"TJ's CBD","trt":"(1:3)","plant":24,"score":4.8},{"day":21,"cv":"TJ's CBD","trt":"(1:3)","plant":25,"score":7.8},{"day":21,"cv":"TJ's CBD","trt":"(1:3)","plant":26,"score":6.5},{"day":21,"cv":"TJ's CBD","trt":"(1:3)","plant":27,"score":5.2},{"day":21,"cv":"TJ's CBD","trt":"(1:3)","plant":28,"score":9.3},{"day":21,"cv":"TJ's CBD","trt":"(1:3)","plant":29,"score":6.0},{"day":21,"cv":"TJ's CBD","trt":"(1:3)","plant":30,"score":7.1},{"day":21,"cv":"TJ's CBD","trt":"(1:3)","plant":31,"score":5.5},{"day":21,"cv":"TJ's CBD","trt":"(1:3)","plant":32,"score":6.7},{"day":21,"cv":"TJ's CBD","trt":"(1:3)","plant":33,"score":7.6},{"day":21,"cv":"TJ's CBD","trt":"(1:3)","plant":34,"score":6.3},{"day":21,"cv":"TJ's CBD","trt":"(1:3)","plant":35,"score":5.9},{"day":21,"cv":"TJ's CBD","trt":"(1:3)","plant":36,"score":6.8},

    {"day":21,"cv":"TJ's CBD","trt":"(1:9)","plant":1,"score":5.2},{"day":21,"cv":"TJ's CBD","trt":"(1:9)","plant":2,"score":1.4},{"day":21,"cv":"TJ's CBD","trt":"(1:9)","plant":3,"score":8.9},{"day":21,"cv":"TJ's CBD","trt":"(1:9)","plant":4,"score":4.8},{"day":21,"cv":"TJ's CBD","trt":"(1:9)","plant":5,"score":5.8},{"day":21,"cv":"TJ's CBD","trt":"(1:9)","plant":6,"score":7.2},{"day":21,"cv":"TJ's CBD","trt":"(1:9)","plant":7,"score":4.4},{"day":21,"cv":"TJ's CBD","trt":"(1:9)","plant":8,"score":9.2},{"day":21,"cv":"TJ's CBD","trt":"(1:9)","plant":9,"score":5.0},{"day":21,"cv":"TJ's CBD","trt":"(1:9)","plant":10,"score":6.2},{"day":21,"cv":"TJ's CBD","trt":"(1:9)","plant":11,"score":3.8},{"day":21,"cv":"TJ's CBD","trt":"(1:9)","plant":12,"score":5.5},{"day":21,"cv":"TJ's CBD","trt":"(1:9)","plant":13,"score":8.0},{"day":21,"cv":"TJ's CBD","trt":"(1:9)","plant":14,"score":4.9},{"day":21,"cv":"TJ's CBD","trt":"(1:9)","plant":15,"score":6.6},{"day":21,"cv":"TJ's CBD","trt":"(1:9)","plant":16,"score":5.1},{"day":21,"cv":"TJ's CBD","trt":"(1:9)","plant":17,"score":1.9},{"day":21,"cv":"TJ's CBD","trt":"(1:9)","plant":18,"score":7.7},{"day":21,"cv":"TJ's CBD","trt":"(1:9)","plant":19,"score":4.6},{"day":21,"cv":"TJ's CBD","trt":"(1:9)","plant":20,"score":5.6},{"day":21,"cv":"TJ's CBD","trt":"(1:9)","plant":21,"score":9.0},{"day":21,"cv":"TJ's CBD","trt":"(1:9)","plant":22,"score":4.2},{"day":21,"cv":"TJ's CBD","trt":"(1:9)","plant":23,"score":5.3},{"day":21,"cv":"TJ's CBD","trt":"(1:9)","plant":24,"score":6.9},{"day":21,"cv":"TJ's CBD","trt":"(1:9)","plant":25,"score":4.9},{"day":21,"cv":"TJ's CBD","trt":"(1:9)","plant":26,"score":8.2},{"day":21,"cv":"TJ's CBD","trt":"(1:9)","plant":27,"score":5.0},{"day":21,"cv":"TJ's CBD","trt":"(1:9)","plant":28,"score":4.0},{"day":21,"cv":"TJ's CBD","trt":"(1:9)","plant":29,"score":5.9},{"day":21,"cv":"TJ's CBD","trt":"(1:9)","plant":30,"score":7.3},{"day":21,"cv":"TJ's CBD","trt":"(1:9)","plant":31,"score":4.7},{"day":21,"cv":"TJ's CBD","trt":"(1:9)","plant":32,"score":5.4},{"day":21,"cv":"TJ's CBD","trt":"(1:9)","plant":33,"score":6.4},{"day":21,"cv":"TJ's CBD","trt":"(1:9)","plant":34,"score":4.5},{"day":21,"cv":"TJ's CBD","trt":"(1:9)","plant":35,"score":5.7},{"day":21,"cv":"TJ's CBD","trt":"(1:9)","plant":36,"score":5.1}
  ]},
  "facet": {
    "column": {
      "field": "day", "type": "ordinal",
      "header": {
        "title": "Spray Time Interval", "titleOrient": "bottom", "titleFontSize": 19,
        "titleFontWeight": "normal", "titleColor": "#000000", "titlePadding": 4,
        "labelOrient": "top", "labelFontSize": 15, "labelColor": "#1a1a1a", "labelPadding": 8
      }
    },
    "row": {
      "field": "cv", "type": "nominal",
      "header": {
        "title": "Root Quality Score", "titleOrient": "left", "titleFontSize": 19,
        "titleFontWeight": "normal", "titleColor": "#000000", "titlePadding": 10,
        "labelOrient": "right", "labelAngle": 90, "labelFontSize": 15, "labelColor": "#1a1a1a",
        "labelPadding": 6
      }
    }
  },
  "spacing": {"row": 12, "column": 11},
  "spec": {
    "width": 255,
    "height": 210,
    "encoding": {
      "x": {
        "field": "trt", "type": "nominal",
        "sort": ["(~)", "(1:1)", "(1:3)", "(1:9)"],
        "scale": {"paddingInner": 0.25, "paddingOuter": 0.225},
        "axis": {"title": null, "labelAngle": -15, "labelAlign": "center", "labelBaseline": "top", "labelPadding": 9}
      }
    },
    "layer": [
      {
        "transform": [{"filter": "datum.q1 != null"}],
        "mark": {"type": "rule", "color": "#000000", "strokeWidth": 1.4},
        "encoding": {
          "y": {"field": "lower", "type": "quantitative",
                "scale": {"domain": [-0.56, 12.56], "nice": false, "zero": false},
                "axis": {"values": [0, 2.5, 5, 7.5, 10, 12.5], "format": ".1f", "title": null}},
          "y2": {"field": "upper"}
        }
      },
      {
        "transform": [{"filter": "datum.q1 != null"}],
        "mark": {"type": "bar", "stroke": "#000000", "strokeWidth": 1.4, "width": 45.5},
        "encoding": {
          "y": {"field": "q1", "type": "quantitative"},
          "y2": {"field": "q3"},
          "fill": {"field": "cv", "type": "nominal", "legend": null,
                   "scale": {"domain": ["Janet's G", "TJ's CBD"], "range": ["#b3ebb3", "#63b8ff"]}}
        }
      },
      {
        "transform": [{"filter": "datum.q1 != null"}],
        "mark": {"type": "tick", "color": "#000000", "thickness": 3.2, "size": 46.8, "opacity": 1},
        "encoding": {
          "y": {"field": "median", "type": "quantitative"}
        }
      },
      {
        "transform": [{"filter": "datum.score != null"}],
        "mark": {"type": "point", "shape": "circle", "filled": true, "size": 75,
                 "fillOpacity": 0.55, "strokeOpacity": 0.55, "strokeWidth": 1.1},
        "encoding": {
          "xOffset": {"field": "plant", "type": "nominal", "legend": null,
                      "scale": {"paddingOuter": 8}},
          "y": {"field": "score", "type": "quantitative"},
          "fill": {"field": "cv", "type": "nominal", "legend": null},
          "stroke": {"field": "cv", "type": "nominal", "legend": null,
                     "scale": {"domain": ["Janet's G", "TJ's CBD"], "range": ["#3f6f3f", "#24527f"]}}
        }
      },
      {
        "transform": [{"filter": "datum.q1 != null"}],
        "mark": {"type": "text", "fontSize": 26, "baseline": "alphabetic", "align": "center", "color": "#000000"},
        "encoding": {
          "y": {"datum": 10.8, "type": "quantitative"},
          "text": {"field": "letter"}
        }
      }
    ]
  },
  "config": {
    "font": "Liberation Sans",
    "view": {"stroke": "#8c8c8c", "strokeWidth": 1},
    "axis": {
      "grid": false, "domain": false, "tickColor": "#333333", "tickSize": 4, "tickWidth": 1,
      "labelColor": "#4d4d4d", "labelFontSize": 15, "labelFont": "Liberation Sans"
    },
    "axisY": {"labelPadding": 3},
    "header": {"labelFont": "Liberation Sans", "titleFont": "Liberation Sans"}
  }
}
